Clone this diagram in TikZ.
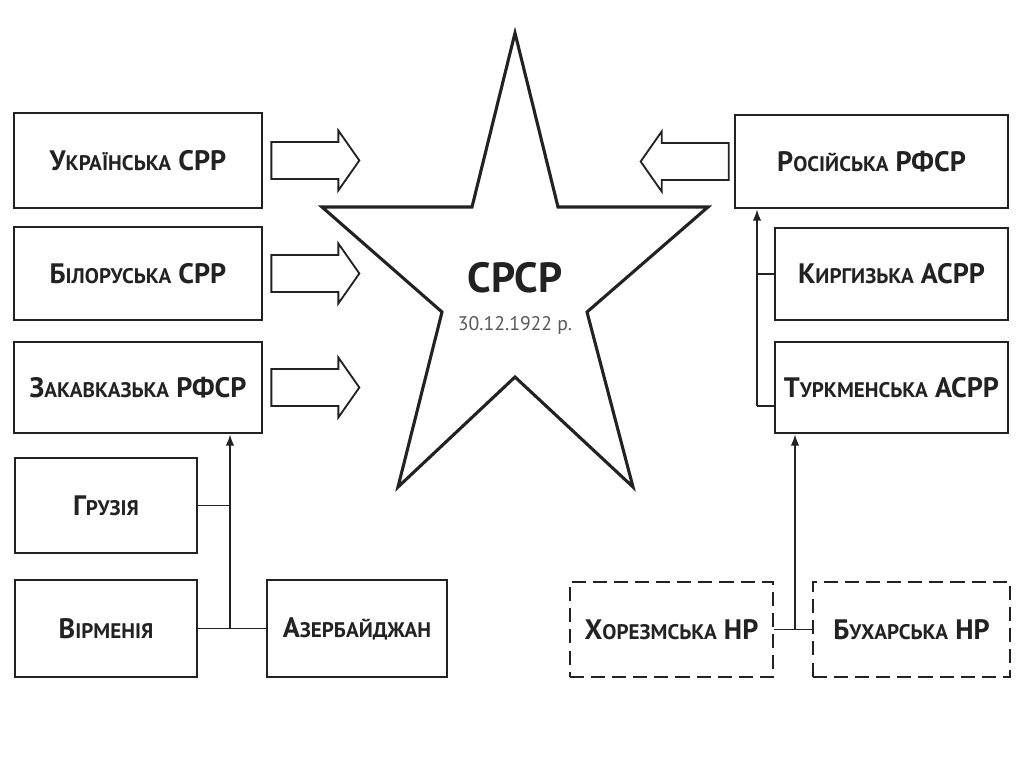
\documentclass[tikz,border=0pt]{standalone}
\usepackage{fontspec}
\setmainfont{PT Sans}
\usetikzlibrary{fit,arrows.meta,calc}
\newcommand\smc{\fontsize{15}{15}\selectfont}
\definecolor{ink}{HTML}{222222}
\tikzset{
  lbl/.style={font=\fontsize{20}{20}\selectfont\bfseries, text=ink, inner sep=0pt},
  box/.style={draw=ink, line width=1.9pt, inner sep=0pt, fill=white,
    label={[lbl]center:#1}},
  dbox/.style={box=#1, dash pattern=on 10pt off 5pt},
  conn/.style={draw=ink, line width=1.2pt},
  arr/.style={conn, -{Latex[length=8pt,width=6pt]}},
  barrow/.style={draw=ink, line width=1.3pt},
  pics/blockarrow/.style={code={
    \draw[barrow] (0,-18.5) -- (67,-18.5) -- (67,-30) -- (88,0) -- (67,30)
      -- (67,18.5) -- (0,18.5) -- cycle;}}
}
\begin{document}
\begin{tikzpicture}[x=0.025cm, y=-0.025cm]
\useasboundingbox[fill=white] (0,0) rectangle (1024,767);
% star
\draw[draw=ink, line width=2.2pt, line join=miter]
  (515,33) -- (558,207) -- (708,207) -- (587,312) -- (633,487) -- (515,377)
  -- (398,487) -- (442,312) -- (322,207) -- (472,207) -- cycle;
\node[font=\fontsize{30}{30}\selectfont\bfseries, text=ink] (srsr) at (515,278) {СРСР};
\node[font=\fontsize{14}{14}\selectfont, text=black!65] (date) at (515,325) {30.12.1922 р.};
% left boxes
\node[box={У{\smc КРАЇНСЬКА} СРР}, fit={(14,113)(262,208)}] (ukr) {};
\node[box={Б{\smc ІЛОРУСЬКА} СРР}, fit={(14,227)(262,320)}] (bil) {};
\node[box={З{\smc АКАВКАЗЬКА} РФСР}, fit={(14,342)(262,433)}] (zak) {};
\node[box={Г{\smc РУЗІЯ}}, fit={(15,458)(197,553)}] (gru) {};
\node[box={В{\smc ІРМЕНІЯ}}, fit={(15,580)(197,677)}] (vir) {};
\node[box={А{\smc ЗЕРБАЙДЖАН}}, fit={(267,580)(447,677)}] (aze) {};
% right boxes
\node[box={Р{\smc ОСІЙСЬКА} РФСР}, fit={(735,115)(1008,208)}] (ros) {};
\node[box={К{\smc ИРГИЗЬКА} АСРР}, fit={(775,228)(1008,320)}] (kyr) {};
\node[box={Т{\smc УРКМЕНСЬКА} АСРР}, fit={(775,342)(1008,433)}] (tur) {};
\node[dbox={Х{\smc ОРЕЗМСЬКА} НР}, fit={(570,582)(773,677)}] (kho) {};
\node[dbox={Б{\smc УХАРСЬКА} НР}, fit={(813,582)(1010,677)}] (bukh) {};
% block arrows
\pic at ($(ukr.east)+(8,0)$) {blockarrow};
\pic at ($(bil.east)+(8,0)$) {blockarrow};
\pic at ($(zak.east)+(8,0)$) {blockarrow};
\pic[rotate=180] at ($(ros.west)+(-5,0)$) {blockarrow};
% left connectors
\coordinate (j1) at (230,0);
\draw[conn] (vir.east) -- (aze.west);
\draw[conn] (gru.east) -- (gru.east -| j1);
\draw[arr] (vir.east -| j1) -- (j1 |- zak.south);
% right connectors
\coordinate (j2) at (757,0);
\coordinate (tj) at ($(tur.south west)+(0,-28)$);
\draw[conn] (kyr.west) -- (kyr.west -| j2);
\draw[conn] (tj) -- (tj -| j2);
\draw[arr] (tj -| j2) -- (j2 |- ros.south);
\coordinate (j3) at (795,0);
\draw[conn] (kho.east) -- (bukh.west);
\draw[arr] (kho.east -| j3) -- (j3 |- tur.south);
\end{tikzpicture}
\end{document}
